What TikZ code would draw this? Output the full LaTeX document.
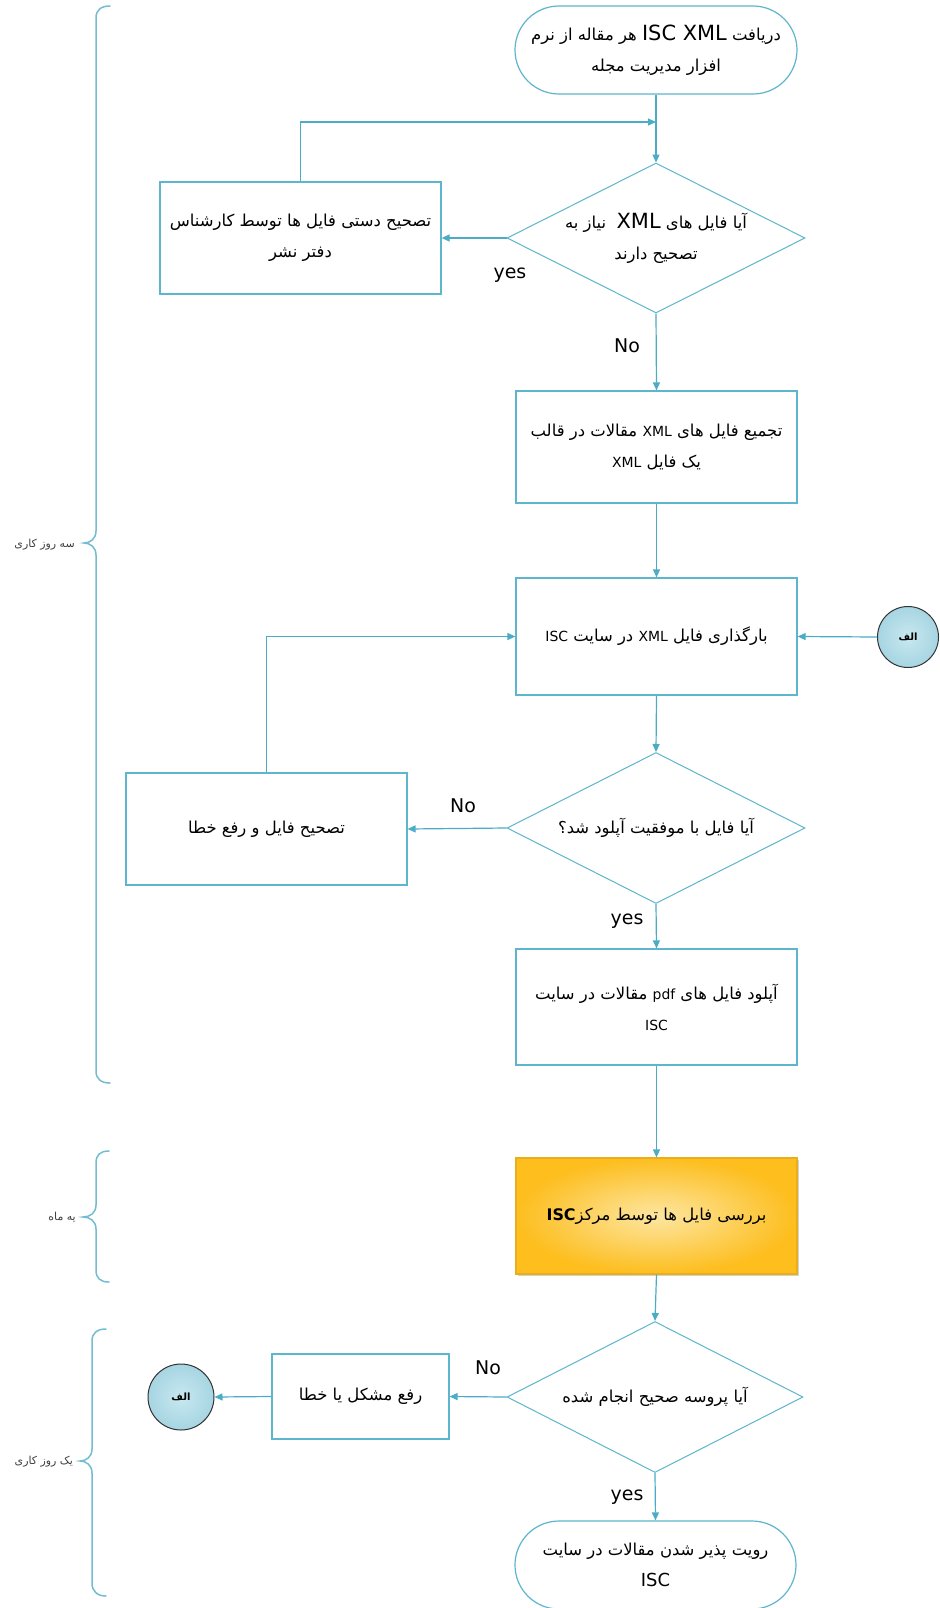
\documentclass[tikz,border=0pt]{standalone}
\usepackage{fontspec}
\usetikzlibrary{shapes.geometric,arrows.meta,shadows}
\TeXXeTstate=1
\newfontfamily\arabicfont[Script=Arabic]{DejaVu Sans}
\newfontfamily\latinfont{DejaVu Sans}
\newcommand\myR[1]{\beginR#1\endR}
\newcommand\myL[1]{\beginL{#1}\endL{}}
\newcommand\fa{\arabicfont\fontsize{16.5}{31}\selectfont}
\newcommand\bigLatin{\latinfont\fontsize{21}{22}\selectfont}
\newcommand\smLatin{\latinfont\fontsize{14}{16}\selectfont}
\definecolor{cline}{HTML}{4BACC6}
\definecolor{cbox}{HTML}{5DB6CD}
\definecolor{cbrace}{HTML}{74BDD0}
\definecolor{ccircin}{HTML}{C8E8F0}
\definecolor{ccircout}{HTML}{A6D5E2}
\definecolor{ygo}{HTML}{FDBE1E}
\definecolor{ygi}{HTML}{FDE6A2}
\definecolor{yborder}{HTML}{E9AE1C}
\begin{document}
\begin{tikzpicture}[x=1bp,y=-1bp,
  box/.style={draw=cbox,line width=1.2bp,minimum width=281bp,minimum height=112bp,inner sep=0pt,align=center,font=\fa},
  dia/.style={diamond,aspect=2,draw=cbox,line width=1bp,minimum width=298bp,minimum height=150bp,inner sep=0pt,align=center,font=\fa},
  term/.style={draw=cbox,line width=1.2bp,rounded corners=44bp,minimum width=282bp,minimum height=88bp,inner sep=0pt,align=center,font=\fa},
  conn/.style={circle,draw=black!80,line width=1bp,inner color=ccircin,outer color=ccircout,minimum size=61bp,inner sep=0pt,font=\arabicfont\bfseries\fontsize{10}{11}\selectfont},
  arr/.style={draw=cline,line width=1.2bp,-{Triangle[length=8bp,width=7bp]}},
  lab/.style={font=\latinfont\fontsize{19}{20}\selectfont,inner sep=0pt},
  brace/.style={draw=cbrace,line width=1.5bp,line cap=round},
  blab/.style={font=\arabicfont\fontsize{11}{12}\selectfont,text=black!75,anchor=east,inner sep=0pt}]
\useasboundingbox[fill=white] (0,0) rectangle (939,1608);

% nodes
\node[term] (t1) at (656,50) {\myR{دریافت \myL{\bigLatin ISC XML} هر مقاله از نرم}\\\myR{افزار مدیریت مجله}};
\node[dia] (d1) at (656,238) {\myR{آیا فایل های \myL{\bigLatin XML}\ \ نیاز به}\\\myR{تصحیح دارند}};
\node[box] (b1) at (300.5,238) {\myR{تصحیح دستی فایل ها توسط کارشناس}\\\myR{دفتر نشر}};
\node[box] (b2) at (656.5,447) {\myR{تجمیع فایل های \myL{\smLatin XML} مقالات در قالب}\\\myR{یک فایل \myL{\smLatin XML}}};
\node[box,minimum height=117bp] (b3) at (656.5,636.5) {\myR{بارگذاری فایل \myL{\smLatin XML} در سایت \myL{\smLatin ISC}}};
\node[conn] (ca) at (908,637) {\myR{الف}};
\node[dia,minimum height=151bp] (d2) at (656,828) {\myR{آیا فایل با موفقیت آپلود شد؟}};
\node[box] (b4) at (266.5,829) {\myR{تصحیح فایل و رفع خطا}};
\node[box,minimum height=116bp] (b5) at (656.5,1007) {\myR{آپلود فایل های \myL{\smLatin pdf} مقالات در سایت}\\\myR{\myL{\smLatin ISC}}};
\node[box,minimum height=116bp,draw=yborder,inner color=ygi,outer color=ygo,drop shadow={shadow xshift=2bp,shadow yshift=-2bp,opacity=0.35}] (b6) at (656.5,1216) {\myR{بررسی فایل ها توسط مرکز\myL{\latinfont\bfseries\fontsize{16}{17}\selectfont ISC}}};
\node[dia,minimum width=296bp,minimum height=151bp] (d3) at (655,1397) {\myR{آیا پروسه صحیح انجام شده}};
\node[box,minimum width=177bp,minimum height=85bp] (b7) at (360.5,1396.5) {\myR{رفع مشکل یا خطا}};
\node[conn,minimum size=66bp] (cb) at (181,1397) {\myR{الف}};
\node[term,minimum width=281bp] (t2) at (655.5,1565) {\myR{رویت پذیر شدن مقالات در سایت}\\\myR{\myL{\latinfont\fontsize{18}{19}\selectfont ISC}}};
\coordinate (j1) at (656,122);

% connectors
\draw[arr] (t1.south) -- (d1.north);
\draw[arr] (b1.north) |- (j1);
\draw[arr] (d1.west) -- (b1.east);
\draw[arr] (d1.south) -- (b2.north);
\draw[arr] (b2.south) -- (b3.north);
\draw[arr] (ca.west) -- (b3.east);
\draw[arr] (b3.south) -- (d2.north);
\draw[arr] (d2.west) -- (b4.east);
\draw[arr] (b4.north) |- (b3.west);
\draw[arr] (d2.south) -- (b5.north);
\draw[arr] (b5.south) -- (b6.north);
\draw[arr] (b6.south) -- (d3.north);
\draw[arr] (d3.west) -- (b7.east);
\draw[arr] (b7.west) -- (cb.east);
\draw[arr] (d3.south) -- (t2.north);

% labels
\node[lab] (y1) at (510,275) {yes};
\node[lab] (n1) at (627,346) {No};
\node[lab] (n2) at (463,806) {No};
\node[lab] (y2) at (627,921) {yes};
\node[lab] (n3) at (488,1368) {No};
\node[lab] (y3) at (627,1497) {yes};

% braces
\draw[brace] (110,6) .. controls (101,6) and (96,10) .. (96,18) -- (96,531) .. controls (96,539) and (90,543) .. (84,543) .. controls (90,543) and (96,547) .. (96,555) -- (96,1071) .. controls (96,1079) and (101,1083) .. (110,1083);
\draw[brace] (109,1151) .. controls (100,1151) and (96,1155) .. (96,1163) -- (96,1205) .. controls (96,1213) and (90,1217) .. (83,1217) .. controls (90,1217) and (96,1221) .. (96,1229) -- (96,1270) .. controls (96,1278) and (100,1282) .. (109,1282);
\draw[brace] (106,1329) .. controls (97,1329) and (92,1333) .. (92,1341) -- (92,1449) .. controls (92,1457) and (86,1461) .. (80,1461) .. controls (86,1461) and (92,1465) .. (92,1473) -- (92,1583) .. controls (92,1591) and (97,1596) .. (106,1596);
\node[blab] (l1) at (75,545) {\myR{سه روز کاری}};
\node[blab] (l2) at (76,1217) {\myR{یه ماه}};
\node[blab] (l3) at (73,1462) {\myR{یک روز کاری}};
\end{tikzpicture}
\end{document}
